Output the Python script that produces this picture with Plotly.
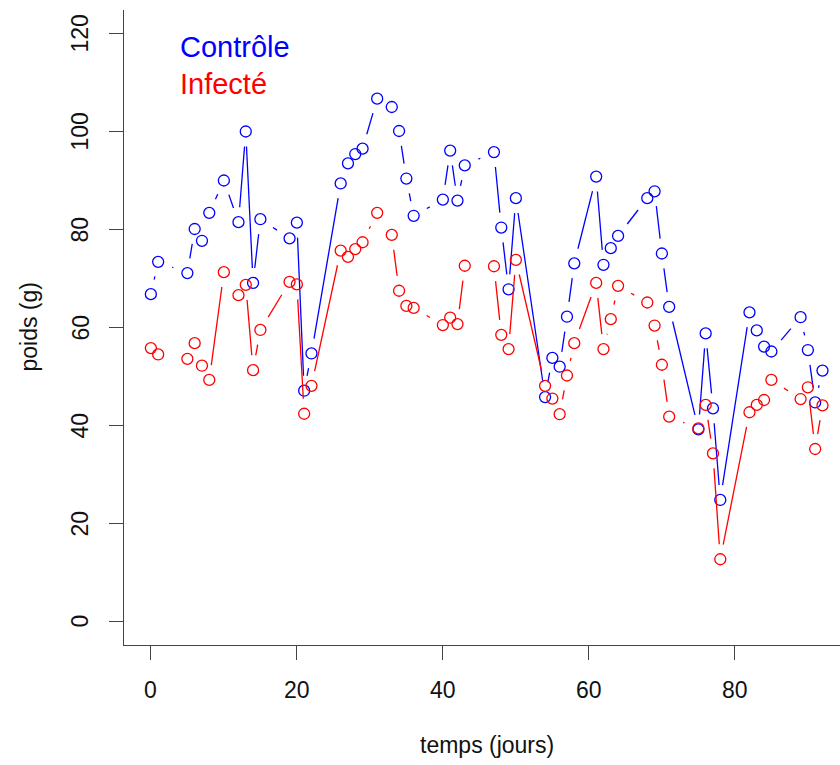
import math
import plotly.graph_objects as go

# ---- data ----
jours = [0, 1, 5, 6, 7, 8, 10, 12, 13, 14, 15, 19, 20, 21, 22, 26, 27, 28, 29, 31,
         33, 34, 35, 36, 40, 41, 42, 43, 47, 48, 49, 50, 54, 55, 56, 57, 58, 61, 62, 63,
         64, 68, 69, 70, 71, 75, 76, 77, 78, 82, 83, 84, 85, 89, 90, 91, 92]
controle = [66.8, 73.4, 71.1, 80.1, 77.7, 83.4, 90.0, 81.5, 100.0, 69.1, 82.1, 78.2, 81.4, 47.1, 54.7,
            89.4, 93.5, 95.4, 96.5, 106.7, 105.0, 100.1, 90.4, 82.8, 86.1, 96.1, 85.9, 93.1,
            95.8, 80.4, 67.8, 86.4, 45.8, 53.8, 52.0, 62.2, 73.1, 90.8, 72.8, 76.2, 78.7,
            86.4, 87.8, 75.1, 64.2, 39.2, 58.8, 43.5, 24.8, 63.1, 59.4, 56.1, 55.1,
            62.1, 55.4, 44.7, 51.2]
infecte = [55.8, 54.5, 53.6, 56.8, 52.2, 49.3, 71.3, 66.6, 68.7, 51.3, 59.5, 69.3, 68.8, 42.4, 48.1,
           75.7, 74.4, 76.0, 77.4, 83.4, 78.9, 67.5, 64.4, 64.0, 60.5, 62.0, 60.7, 72.6,
           72.5, 58.5, 55.6, 73.8, 48.1, 45.5, 42.3, 50.2, 56.8, 69.1, 55.6, 61.7, 68.5,
           65.1, 60.4, 52.4, 41.8, 39.4, 44.2, 34.3, 12.7, 42.7, 44.2, 45.2, 49.3,
           45.4, 47.8, 35.2, 44.1]
series_names = ["Contrôle", "Infecté"]
series_colors = ["#0000FF", "#FF0000"]
x_ticks = [0, 20, 40, 60, 80]
y_ticks = [0, 20, 40, 60, 80, 100, 120]

# ---- layout geometry ----
W, H = 840, 765
ML, MR, MT, MB = 124, 0, 10, 120
PW, PH = W - ML - MR, H - MT - MB
XR = [-3.68, 94.4]
YR = [-4.8, 124.8]
sx = PW / (XR[1] - XR[0])
sy = PH / (YR[1] - YR[0])
GAP = 15.0  # px gap around points (R type="b")


def gapped(xs, ys):
    lx, ly = [], []
    for i in range(len(xs) - 1):
        dxp = (xs[i + 1] - xs[i]) * sx
        dyp = (ys[i + 1] - ys[i]) * sy
        d = math.hypot(dxp, dyp)
        if d <= 2 * GAP:
            continue
        f = GAP / d
        lx += [xs[i] + f * (xs[i + 1] - xs[i]), xs[i + 1] - f * (xs[i + 1] - xs[i]), None]
        ly += [ys[i] + f * (ys[i + 1] - ys[i]), ys[i + 1] - f * (ys[i + 1] - ys[i]), None]
    return lx, ly


def px_x(p):  # page px -> paper x
    return (p - ML) / PW


def px_y(p):  # page px -> paper y
    return (H - MB - p) / PH


fig = go.Figure()
for vals, col in zip([controle, infecte], series_colors):
    lx, ly = gapped(jours, vals)
    fig.add_trace(go.Scatter(x=lx, y=ly, mode="lines", line=dict(color=col, width=1.3),
                             hoverinfo="skip", showlegend=False))
    fig.add_trace(go.Scatter(x=jours, y=vals, mode="markers",
                             marker=dict(symbol="circle-open", size=11, color=col,
                                         line=dict(width=1.3, color=col)),
                             showlegend=False))

FONT = "Liberation Sans, Arial, Helvetica, sans-serif"
TXT = "#111111"
axis_common = dict(showgrid=False, zeroline=False, showline=True, linecolor="#444444",
                   linewidth=1.3, ticks="outside", ticklen=14, tickwidth=1.3,
                   tickcolor="#444444", showticklabels=False, automargin=False)

fig.update_layout(
    width=W, height=H,
    margin=dict(l=ML, r=MR, t=MT, b=MB, pad=0),
    plot_bgcolor="white", paper_bgcolor="white",
    xaxis=dict(range=XR, tickvals=x_ticks, **axis_common),
    yaxis=dict(range=YR, tickvals=y_ticks, **axis_common),
)

# tick labels
for v in x_ticks:
    fig.add_annotation(x=v, xref="x", y=px_y(690), yref="paper", text=str(v), showarrow=False,
                       xanchor="center", yanchor="middle", font=dict(family=FONT, size=23, color=TXT))
for v in y_ticks:
    fig.add_annotation(x=px_x(80), xref="paper", y=v, yref="y", text=str(v), showarrow=False,
                       textangle=-90, xanchor="center", yanchor="middle",
                       font=dict(family=FONT, size=23, color=TXT))

# axis titles
fig.add_annotation(x=(-3.68 + 95.68) / 2, xref="x", y=px_y(745), yref="paper",
                   text="temps (jours)", showarrow=False, font=dict(family=FONT, size=23, color=TXT),
                   xanchor="center", yanchor="middle")
fig.add_annotation(x=px_x(28), xref="paper", y=0.5, yref="paper", text="poids (g)", textangle=-90,
                   showarrow=False, font=dict(family=FONT, size=23, color=TXT),
                   xanchor="center", yanchor="middle")

# legend text
for i, (name, col) in enumerate(zip(series_names, series_colors)):
    fig.add_annotation(x=px_x(178), xref="paper", y=px_y(47 + 37 * i), yref="paper",
                       text=name, showarrow=False, xanchor="left", yanchor="middle",
                       font=dict(family=FONT, size=29, color=col))

fig.write_html("out.html")
